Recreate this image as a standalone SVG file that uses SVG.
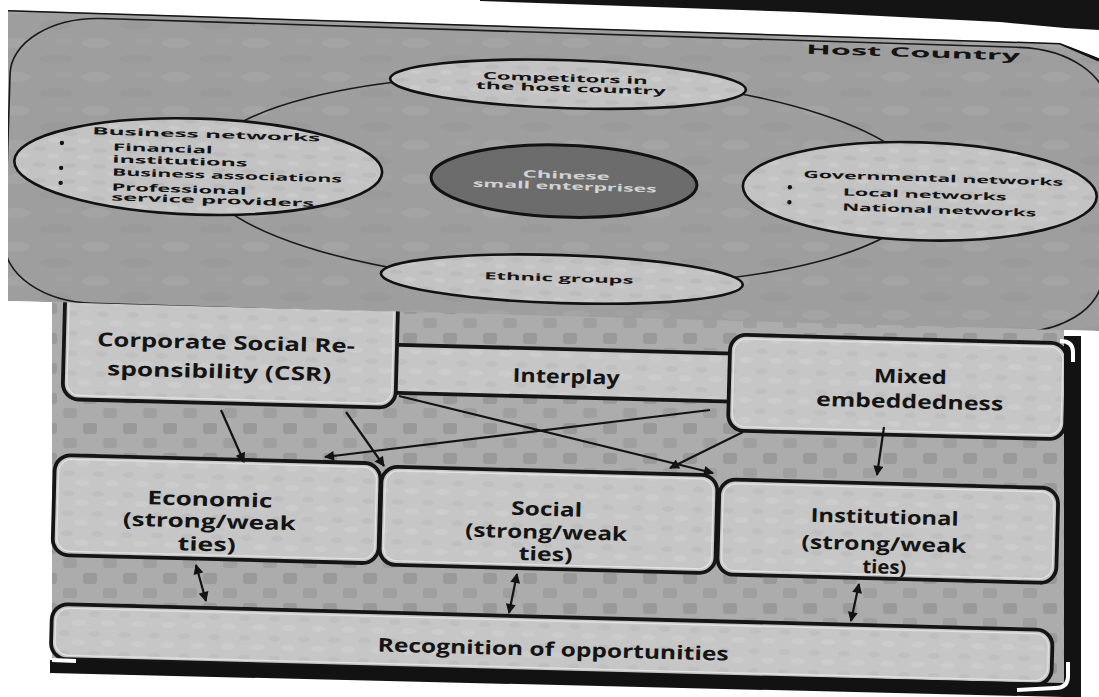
<svg xmlns="http://www.w3.org/2000/svg" width="1099" height="697" viewBox="0 0 1099 697">
<defs>
  <style>
    .tx{font-family:"Open Sans","Liberation Sans",sans-serif;font-weight:700;fill:#141414}
    .lb{font-size:19px;text-anchor:middle}
    .sm{font-size:10px}
    .mid{text-anchor:middle}
    .box{fill:url(#boxtex);stroke:#151515;stroke-width:3.8}
    .inner{fill:none;stroke:#e2e2e2;stroke-width:1.3}
    .ell{fill:url(#elltex);stroke:#121212;stroke-width:2.6}
    .ring{fill:none;stroke:#1a1a1a;stroke-width:1.6}
    .con{fill:none;stroke:#131313;stroke-width:2.2}
    .dot{fill:#141414}
    .lt{fill:#d2d2d2}
  </style>
  <pattern id="mottle" width="80" height="34" patternUnits="userSpaceOnUse">
    <rect width="80" height="34" fill="#9e9e9e"/>
    <ellipse cx="16" cy="9" rx="14" ry="5" fill="#a9a9a9" opacity="0.5"/>
    <ellipse cx="56" cy="25" rx="16" ry="5" fill="#939393" opacity="0.4"/>
    <ellipse cx="64" cy="7" rx="9" ry="3" fill="#a6a6a6" opacity="0.4"/>
  </pattern>
  <pattern id="checks" width="40" height="30" patternUnits="userSpaceOnUse">
    <rect width="40" height="30" fill="#acacac"/>
    <rect x="3" y="3" width="14" height="11" rx="3" fill="#8f8f8f" opacity="0.65"/>
    <rect x="23" y="18" width="14" height="10" rx="3" fill="#939393" opacity="0.55"/>
  </pattern>
  <pattern id="boxtex" width="30" height="20" patternUnits="userSpaceOnUse">
    <rect width="30" height="20" fill="#c6c6c6"/>
    <ellipse cx="8" cy="6" rx="6" ry="3" fill="#bababa" opacity="0.6"/>
    <ellipse cx="22" cy="15" rx="7" ry="3" fill="#d0d0d0" opacity="0.6"/>
  </pattern>
  <pattern id="elltex" width="30" height="16" patternUnits="userSpaceOnUse">
    <rect width="30" height="16" fill="#c3c3c3"/>
    <ellipse cx="9" cy="5" rx="7" ry="2.5" fill="#b5b5b5" opacity="0.6"/>
    <ellipse cx="23" cy="12" rx="6" ry="2.5" fill="#cfcfcf" opacity="0.6"/>
  </pattern>
  <clipPath id="topclip">
    <polygon points="8,10 1060,43 1099,58 1099,331 8,301"/>
  </clipPath>
  <marker id="ah" viewBox="0 0 10 10" refX="9" refY="5" markerWidth="11" markerHeight="10" markerUnits="userSpaceOnUse" orient="auto-start-reverse">
    <path d="M0,0 L10,5 L0,10 z" fill="#131313"/>
  </marker>
</defs>

<rect width="1099" height="697" fill="#ffffff"/>

<!-- lower panel background -->
<polygon points="52,296 1064,320 1064,684 52,661" fill="url(#checks)"/>

<g transform="rotate(1.5 555 500)">
  <g id="interplay">
    <rect class="box" x="385" y="349" width="355" height="48" rx="10"/>
    <text class="tx lb" x="563" y="383" textLength="107" lengthAdjust="spacingAndGlyphs">Interplay</text>
  </g>
  <g id="csr">
    <rect class="box" x="60" y="280" width="333" height="132" rx="16"/>
    <rect class="inner" x="64" y="284" width="325" height="124" rx="13"/>
    <text class="tx lb" x="222" y="358" textLength="258" lengthAdjust="spacingAndGlyphs">Corporate Social Re-</text>
    <text class="tx lb" x="216" y="387" textLength="224" lengthAdjust="spacingAndGlyphs">sponsibility (CSR)</text>
  </g>
  <g id="mixed">
    <rect class="box" x="726" y="330" width="337" height="96" rx="16"/>
    <rect class="inner" x="730" y="334" width="329" height="88" rx="13"/>
    <text class="tx lb" x="907" y="374" textLength="73" lengthAdjust="spacingAndGlyphs">Mixed</text>
    <text class="tx lb" x="907" y="399" textLength="187" lengthAdjust="spacingAndGlyphs">embeddedness</text>
  </g>
  <g id="economic">
    <rect class="box" x="54" y="468" width="326" height="100" rx="16"/>
    <rect class="inner" x="58" y="472" width="318" height="92" rx="13"/>
    <text class="tx lb" x="210" y="515" textLength="125" lengthAdjust="spacingAndGlyphs">Economic</text>
    <text class="tx lb" x="210" y="537" textLength="173" lengthAdjust="spacingAndGlyphs">(strong/weak</text>
    <text class="tx lb" x="208" y="560" textLength="58" lengthAdjust="spacingAndGlyphs">ties)</text>
  </g>
  <g id="social">
    <rect class="box" x="381" y="471" width="336" height="98" rx="16"/>
    <rect class="inner" x="385" y="475" width="328" height="90" rx="13"/>
    <text class="tx lb" x="547" y="516" textLength="71" lengthAdjust="spacingAndGlyphs">Social</text>
    <text class="tx lb" x="547" y="539" textLength="162" lengthAdjust="spacingAndGlyphs">(strong/weak</text>
    <text class="tx lb" x="547" y="561" textLength="54" lengthAdjust="spacingAndGlyphs">ties)</text>
  </g>
  <g id="institutional">
    <rect class="box" x="719" y="475" width="339" height="95" rx="16"/>
    <rect class="inner" x="723" y="479" width="331" height="87" rx="13"/>
    <text class="tx lb" x="885" y="515" textLength="148" lengthAdjust="spacingAndGlyphs">Institutional</text>
    <text class="tx lb" x="885" y="542" textLength="165" lengthAdjust="spacingAndGlyphs">(strong/weak</text>
    <text class="tx lb" x="886" y="565" textLength="44" lengthAdjust="spacingAndGlyphs">ties)</text>
  </g>
  <g id="recognition">
    <rect class="box" x="55" y="617" width="1001" height="55" rx="16"/>
    <rect class="inner" x="59" y="621" width="993" height="47" rx="13"/>
    <text class="tx lb" x="557" y="656" textLength="351" lengthAdjust="spacingAndGlyphs">Recognition of opportunities</text>
  </g>
</g>

<g id="connectors">
  <line class="con" x1="221" y1="410" x2="244" y2="462" marker-end="url(#ah)"/>
  <line class="con" x1="346" y1="412" x2="384" y2="466" marker-end="url(#ah)"/>
  <line class="con" x1="710" y1="410" x2="325" y2="457" marker-end="url(#ah)"/>
  <line class="con" x1="399" y1="396" x2="713" y2="473" marker-end="url(#ah)"/>
  <line class="con" x1="743" y1="432" x2="670" y2="468" marker-end="url(#ah)"/>
  <line class="con" x1="884" y1="427" x2="877" y2="475" marker-end="url(#ah)"/>
  <line class="con" x1="196" y1="565" x2="206" y2="601" marker-start="url(#ah)" marker-end="url(#ah)"/>
  <line class="con" x1="517" y1="574" x2="509" y2="613" marker-start="url(#ah)" marker-end="url(#ah)"/>
  <line class="con" x1="859" y1="584" x2="851" y2="621" marker-start="url(#ah)" marker-end="url(#ah)"/>
</g>

<!-- scan edges -->
<rect x="1064" y="336" width="17" height="361" fill="#121212"/>
<polygon points="50,660 1064,683 1064,697 50,673" fill="#121212"/>
<path d="M1060,341 Q1073,341 1073,352 L1073,362" fill="none" stroke="#ffffff" stroke-width="4"/>
<path d="M1068,662 L1068,676 Q1068,688 1055,688 L1017,690" fill="none" stroke="#ffffff" stroke-width="4"/>
<path d="M52,660 L76,661" fill="none" stroke="#ffffff" stroke-width="4"/>
<polygon points="480,0 1099,0 1099,30 1065,28 1000,22 800,12 480,1" fill="#141414"/>

<!-- top panel -->
<g id="host-country" clip-path="url(#topclip)">
  <polygon points="8,10 1060,43 1099,58 1099,331 8,301" fill="url(#mottle)"/>
  <g transform="rotate(1.8 560 180)">
    <rect class="ring" x="7" y="33" width="1098" height="285" rx="90" ry="58"/>
    <text class="tx mid" x="909" y="46" font-size="13" textLength="214" lengthAdjust="spacingAndGlyphs">Host Country</text>
    <ellipse class="ring" cx="562" cy="180" rx="362" ry="105"/>
    <g id="competitors">
      <ellipse class="ell" cx="565" cy="84" rx="178" ry="24"/>
      <text class="tx sm mid" x="562" y="81.5" textLength="165" lengthAdjust="spacingAndGlyphs">Competitors in</text>
      <text class="tx sm mid" x="568" y="91.5" textLength="190" lengthAdjust="spacingAndGlyphs">the host country</text>
    </g>
    <g id="business-networks">
      <ellipse class="ell" cx="198" cy="178" rx="184" ry="48"/>
      <text class="tx sm" x="91" y="149" textLength="228" lengthAdjust="spacingAndGlyphs">Business networks</text>
      <circle class="dot" cx="61" cy="158.6" r="2.2"/>
      <circle class="dot" cx="61" cy="183.6" r="2.2"/>
      <circle class="dot" cx="61" cy="198.6" r="2.2"/>
      <text class="tx sm" x="112" y="164.5" textLength="100" lengthAdjust="spacingAndGlyphs">Financial</text>
      <text class="tx sm" x="112" y="176.5" textLength="135" lengthAdjust="spacingAndGlyphs">institutions</text>
      <text class="tx sm" x="112" y="189.5" textLength="230" lengthAdjust="spacingAndGlyphs">Business associations</text>
      <text class="tx sm" x="112" y="204.5" textLength="135" lengthAdjust="spacingAndGlyphs">Professional</text>
      <text class="tx sm" x="112" y="214.5" textLength="203" lengthAdjust="spacingAndGlyphs">service providers</text>
    </g>
    <g id="enterprise">
      <ellipse cx="564" cy="181" rx="133" ry="36" fill="#6c6c6c" stroke="#121212" stroke-width="3"/>
      <text class="tx sm mid lt" x="566" y="178.5" textLength="87" lengthAdjust="spacingAndGlyphs">Chinese</text>
      <text class="tx sm mid lt" x="565" y="189.5" textLength="184" lengthAdjust="spacingAndGlyphs">small enterprises</text>
    </g>
    <g id="governmental-networks">
      <ellipse class="ell" cx="920" cy="180" rx="177" ry="49"/>
      <text class="tx sm" x="803" y="170" textLength="260" lengthAdjust="spacingAndGlyphs">Governmental networks</text>
      <circle class="dot" cx="790" cy="180" r="2.2"/>
      <circle class="dot" cx="790" cy="195" r="2.2"/>
      <text class="tx sm" x="843" y="186.6" textLength="164" lengthAdjust="spacingAndGlyphs">Local networks</text>
      <text class="tx sm" x="843" y="201.5" textLength="194" lengthAdjust="spacingAndGlyphs">National networks</text>
    </g>
    <g id="ethnic-groups">
      <ellipse class="ell" cx="565" cy="279" rx="181" ry="24"/>
      <text class="tx sm mid" x="562" y="281.5" textLength="149" lengthAdjust="spacingAndGlyphs">Ethnic groups</text>
    </g>
  </g>
  <polyline points="8,10 1060,43 1099,60" fill="none" stroke="#121212" stroke-width="3"/>
</g>
</svg>
